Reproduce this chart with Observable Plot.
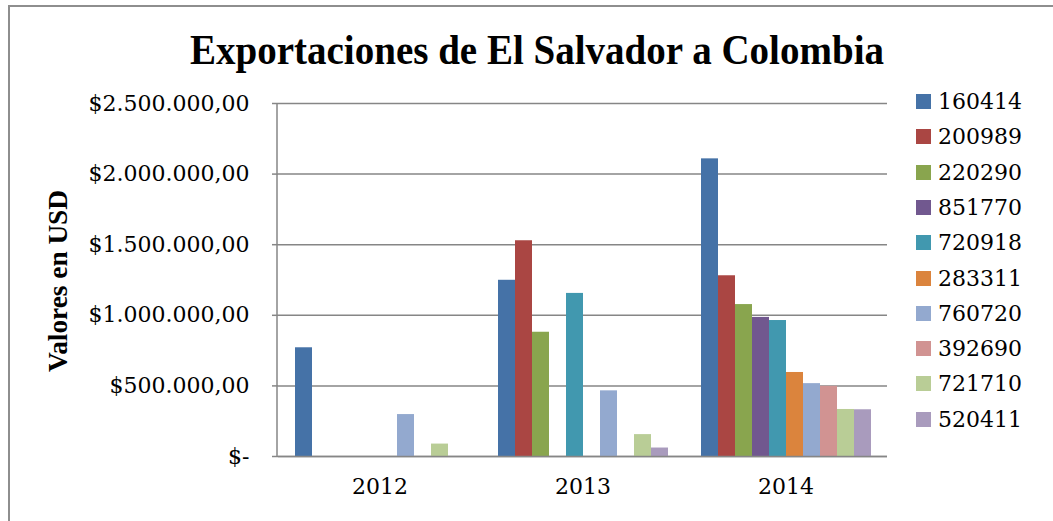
<!DOCTYPE html>
<html>
<head>
<meta charset="utf-8">
<script src="https://cdn.jsdelivr.net/npm/d3@7"></script>
<script src="https://cdn.jsdelivr.net/npm/@observablehq/plot@0.6"></script>
<style>
  html, body { margin: 0; padding: 0; background: #fff; width: 1053px; height: 521px; overflow: hidden; }
  #wrap { position: relative; width: 1053px; height: 521px; overflow: hidden; }
  #frame { position: absolute; left: 8px; top: 5px; width: 2000px; height: 2000px;
           border-left: 2px solid #8e8e8e; border-top: 2px solid #8e8e8e; }
  #chart { position: absolute; left: 0; top: 0; }
  #title { position: absolute; top: 28px; left: 537px; white-space: nowrap;
           font-family: "Liberation Serif", serif; font-weight: bold; font-size: 43px; line-height: 1;
           color: #000; transform-origin: 0 0; }
  #ytitle { position: absolute; left: 58px; top: 281px; white-space: nowrap;
            font-family: "Liberation Serif", serif; font-weight: bold; font-size: 27px; line-height: 1; color: #000; }
  #legend { position: absolute; left: 916px; top: 0; font-family: "DejaVu Serif", serif; font-size: 22px; color: #000; }
  .li { position: absolute; left: 0; white-space: nowrap; height: 24px; }
  .sw { position: absolute; left: 0; width: 15px; height: 15px; }
  .lt { position: absolute; left: 22px; line-height: 24px; }
</style>
</head>
<body>
<div id="wrap">
  <div id="frame"></div>
  <div id="chart"></div>
  <div id="title"></div>
  <div id="ytitle"></div>
  <div id="legend"></div>
</div>
<script>
const chartTitle = "Exportaciones de El Salvador a Colombia";
const yAxisTitle = "Valores en USD";
const years = ["2012", "2013", "2014"];
const codes = ["160414", "200989", "220290", "851770", "720918", "283311", "760720", "392690", "721710", "520411"];
const colors = ["#4572A7", "#AA4643", "#89A54E", "#71588F", "#4198AF", "#DB843D", "#93A9CF", "#D19392", "#B9CD96", "#A99BBD"];
const values2012 = [770000, null, null, null, null, null, 297000, null, 88000, null];
const values2013 = [1248000, 1528000, 880000, null, 1155000, null, 465000, null, 155000, 60000];
const values2014 = [2108000, 1280000, 1076000, 985000, 963000, 595000, 516000, 497000, 333000, 331000];
const yTicks = [0, 500000, 1000000, 1500000, 2000000, 2500000];

const valuesByYear = [values2012, values2013, values2014];
const data = years.flatMap((yr, i) => codes.map((c, j) => ({year: yr, code: c, value: valuesByYear[i][j]})))
  .filter(d => d.value != null);

const fmt = v => v === 0 ? "$-" : "$" + d3.format(",.2f")(v).replace(/,/g, "#").replace(/\./g, ",").replace(/#/g, ".");

const grid = "#868686";
const chart = Plot.plot({
  width: 1053,
  height: 521,
  marginLeft: 277,
  marginRight: 165,
  marginTop: 103,
  marginBottom: 65,
  style: {fontFamily: "DejaVu Serif", fontSize: "22px", color: "#000", background: "transparent", overflow: "visible"},
  fx: {domain: years, padding: 0, label: null, axis: null},
  x: {domain: codes, paddingInner: 0, paddingOuter: 0.73, axis: null},
  y: {domain: [0, 2500000], axis: null},
  color: {domain: codes, range: colors},
  marks: [
    Plot.gridY(yTicks, {stroke: grid, strokeOpacity: 1, strokeWidth: 1.5}),
    Plot.axisY(yTicks, {tickSize: 6, tickPadding: 23, tickFormat: fmt, stroke: grid, strokeWidth: 1.5, fill: "#000", fontSize: 22, label: null}),
    Plot.axisFx({anchor: "bottom", tickSize: 0, tickPadding: 22, fontSize: 22, fill: "#000", label: null}),
    Plot.barY(data, {fx: "year", x: "code", y: "value", fill: "code", inset: 0}),
    Plot.ruleY([0], {stroke: grid, strokeWidth: 1.5})
  ]
});
document.getElementById("chart").appendChild(chart);

// vertical value-axis line, from the library's scales
const fxR = chart.scale("fx").range;
const yR = chart.scale("y").range;
d3.select(chart).append("line")
  .attr("x1", fxR[0]).attr("x2", fxR[0])
  .attr("y1", yR[0]).attr("y2", yR[1])
  .attr("stroke", grid).attr("stroke-width", 1.5);

// title, fitted to the reference width
const t = document.getElementById("title");
t.textContent = chartTitle;
const tw = t.getBoundingClientRect().width;
const kt = 694 / tw;
t.style.transform = `translateX(-347px) scaleX(${kt})`;

// y axis title
const yt = document.getElementById("ytitle");
yt.textContent = yAxisTitle;
const yw = yt.getBoundingClientRect().width;
const ky = 182 / yw;
yt.style.transform = `translate(-50%, -50%) rotate(-90deg) scaleX(${ky})`;

// legend
const lg = document.getElementById("legend");
codes.forEach((c, i) => {
  const row = document.createElement("div");
  row.className = "li";
  row.style.top = (102 + i * 35.3 - 12) + "px";
  const sw = document.createElement("div");
  sw.className = "sw";
  sw.style.top = "4px";
  sw.style.background = colors[i];
  const lt = document.createElement("div");
  lt.className = "lt";
  lt.textContent = c;
  row.appendChild(sw);
  row.appendChild(lt);
  lg.appendChild(row);
});
</script>
</body>
</html>
